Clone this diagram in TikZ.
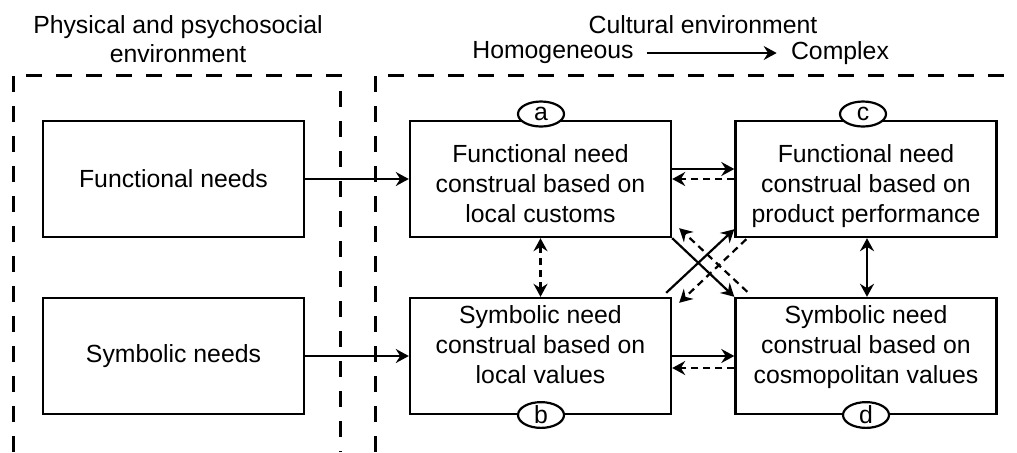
\documentclass[tikz,border=0pt]{standalone}
\usepackage{fontspec}
\setmainfont{Liberation Sans}
\usetikzlibrary{arrows.meta,calc,shapes.geometric}
\begin{document}
\begin{tikzpicture}[x=0.5pt,y=-0.5pt,
 every node/.style={font=\fontsize{12.4}{15}\selectfont},
 box/.style={draw,line width=1.2pt,minimum width=130.5pt,minimum height=58pt,inner sep=0pt,align=center},
 topbox/.style={box,text height=45pt,text depth=2pt},
 botbox/.style={box,text height=29pt,text depth=2pt},
 tag/.style={draw,ellipse,fill=white,line width=1.1pt,minimum width=23pt,minimum height=12.5pt,inner sep=0pt},
 region/.style={line width=1.5pt,dash pattern=on 8pt off 7pt},
 tip/.tip={Stealth[length=6.5pt,width=7pt,inset=2.2pt]},
 conn/.style={line width=1.1pt,-tip},
 dconn/.style={conn,dash pattern=on 3.5pt off 2.5pt},
 both/.style={line width=1.1pt,tip-tip},
 head/.style={inner sep=0pt,align=center}]
\useasboundingbox (0,0) rectangle (1017,452);

% regions
\coordinate (L1) at (13,452);  \coordinate (L2) at (13,75);
\coordinate (L3) at (340,75);  \coordinate (L4) at (340,452);
\coordinate (R1) at (375,452); \coordinate (R2) at (375,75);
\coordinate (R3) at (1017,75);
\draw[region] (L1) -- (L2) -- (L3) -- (L4);
\draw[region] (R1) -- (R2) -- (R3);

% headings
\node[head] (phys) at (178,39) {Physical and psychosocial\\[-0.5pt]environment};
\node[head] (cult) at (703,25) {Cultural environment};
\node[head] (hom) at (553,53) {Homogeneous};
\node[head] (cpx) at (840,53) {Complex};
\draw[conn] ($(hom.east)+(13,0)$) -- ($(cpx.west)+(-14,0)$);

% boxes
\node[box] (fn) at (173.5,179) {Functional needs};
\node[box] (sn) at (173.5,356) {Symbolic needs};
\node[topbox] (a) at (540.5,179) {Functional need\\construal based on\\local customs};
\node[topbox] (c) at (866,179) {Functional need\\construal based on\\product performance};
\node[botbox] (b) at (540.5,356) {Symbolic need\\construal based on\\local values};
\node[botbox] (d) at (866,356) {Symbolic need\\construal based on\\cosmopolitan values};

% tags
\node[tag] (ta) at (541,114) {a};
\node[tag] (tc) at (863,114) {c};
\node[tag] (tb) at (541,415) {b};
\node[tag] (td) at (866,415) {d};

% connectors
\draw[conn] (fn) -- (a);
\draw[conn] (sn) -- (b);
\draw[conn] ($(a.east)+(0,-10)$) -- ($(c.west)+(0,-10)$);
\draw[dconn] (c.west) -- (a.east);
\draw[conn] (b.east) -- (d.west);
\draw[dconn] ($(d.west)+(0,12)$) -- ($(b.east)+(0,12)$);
\draw[both,dash pattern=on 3.5pt off 2.5pt] (a.south) -- (b.north);
\draw[both] ($(c.south)+(1,0)$) -- ($(d.north)+(1,0)$);
\draw[conn] (a.south east) -- (d.north west);
\draw[conn] ($(b.north east)+(-6,-4)$) -- ($(c.south west)+(0,-9)$);
\draw[dconn] ($(d.north west)+(13,-5)$) -- ($(a.south east)+(7,-10)$);
\draw[dconn] ($(c.south west)+(12,1)$) -- ($(b.north east)+(7,6)$);
\end{tikzpicture}
\end{document}
